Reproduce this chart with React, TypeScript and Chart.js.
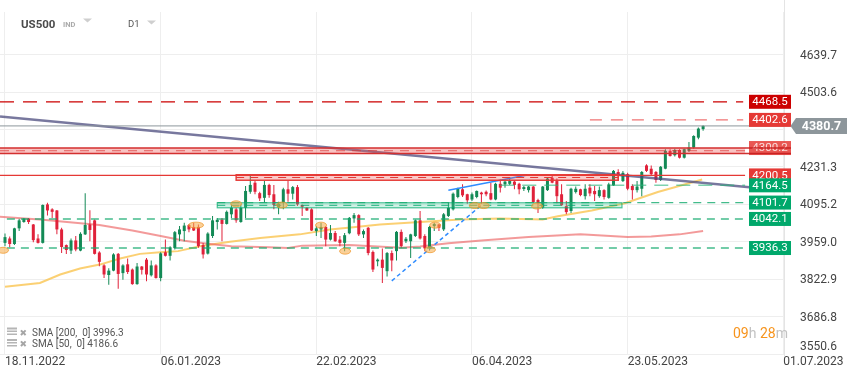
import { useEffect, useRef } from 'react';
import { Chart, registerables } from 'chart.js';

Chart.register(...registerables);

// ---------- axes ----------
const xTickIndex = [0, 33, 66, 99, 132, 165];
const xTickLabels = ['18.11.2022', '06.01.2023', '22.02.2023', '06.04.2023', '23.05.2023', '01.07.2023'];
const yTickValues = [3550.6, 3686.8, 3822.9, 3959.0, 4095.2, 4231.3, 4367.4, 4503.6, 4639.7];

// ---------- candles (daily OHLC) ----------
const opens = [
  3955, 3971, 3951, 4008, 4031, 4043, 4022, 3971, 3955, 4095,
  4077, 4073, 4004, 3947, 3927, 3964, 3927, 3986, 4022, 4037,
  3920, 3873, 3838, 3854, 3915, 3845, 3877, 3858, 3805, 3869,
  3894, 3837, 3873, 3827, 3921, 3908, 3936, 3986, 3998, 4020,
  4013, 4013, 3947, 3916, 3980, 4031, 4040, 4024, 4059, 4077,
  4031, 4083, 4141, 4174, 4136, 4119, 4166, 4132, 4085, 4101,
  4150, 4134, 4158, 4093, 4083, 4077, 3998, 4004, 4013, 3967,
  3991, 3967, 3955, 3990, 4044, 4056, 3986, 4010, 3922, 3888,
  3894, 3852, 3918, 3925, 3995, 3961, 3961, 3980, 4037, 3980,
  3937, 4016, 4022, 4004, 4053, 4077, 4122, 4150, 4132, 4113,
  4122, 4138, 4141, 4136, 4113, 4170, 4168, 4170, 4178, 4170,
  4151, 4147, 4160, 4111, 4083, 4147, 4192, 4180, 4132, 4089,
  4071, 4140, 4150, 4125, 4156, 4144, 4125, 4147, 4119, 4164,
  4213, 4180, 4205, 4162, 4147, 4152, 4237, 4225, 4213, 4184,
  4225, 4290, 4274, 4293, 4265, 4290, 4302, 4338, 4369,
];
const highs = [
  3989, 3978, 4010, 4043, 4046, 4046, 4024, 3986, 4095, 4101,
  4081, 4075, 4010, 3949, 3971, 3980, 3994, 4136, 4074, 4040,
  3925, 3877, 3863, 3917, 3918, 3877, 3898, 3862, 3882, 3871,
  3900, 3891, 3877, 3921, 3967, 3943, 3998, 4016, 4028, 4024,
  4028, 4022, 3955, 3994, 4053, 4046, 4046, 4073, 4095, 4083,
  4095, 4162, 4204, 4180, 4141, 4180, 4170, 4166, 4105, 4156,
  4180, 4162, 4166, 4095, 4085, 4081, 4016, 4028, 4016, 4020,
  3998, 3980, 3991, 4049, 4064, 4059, 4004, 4013, 3927, 3898,
  3935, 3922, 3927, 3998, 4004, 3976, 3988, 4040, 4071, 3986,
  4016, 4028, 4024, 4064, 4101, 4138, 4156, 4168, 4134, 4138,
  4146, 4141, 4146, 4174, 4174, 4186, 4183, 4195, 4183, 4174,
  4162, 4162, 4162, 4116, 4162, 4192, 4198, 4189, 4168, 4107,
  4156, 4160, 4152, 4168, 4168, 4162, 4160, 4150, 4174, 4220,
  4223, 4217, 4210, 4168, 4180, 4217, 4241, 4237, 4217, 4235,
  4296, 4296, 4298, 4296, 4298, 4322, 4347, 4375, 4383,
];
const lows = [
  3943, 3939, 3947, 3998, 4028, 4024, 3957, 3953, 3953, 4055,
  4046, 3986, 3918, 3915, 3915, 3925, 3925, 3984, 3961, 3913,
  3870, 3827, 3803, 3852, 3788, 3821, 3842, 3803, 3803, 3840,
  3815, 3833, 3825, 3815, 3905, 3891, 3931, 3961, 3961, 3994,
  3998, 3937, 3898, 3913, 3973, 4004, 3961, 4022, 4046, 4028,
  4028, 4046, 4134, 4132, 4107, 4101, 4119, 4077, 4059, 4077,
  4105, 4113, 4089, 4053, 4071, 3998, 3980, 3973, 3943, 3964,
  3959, 3943, 3925, 3986, 4028, 3980, 3973, 3910, 3849, 3870,
  3809, 3833, 3852, 3891, 3937, 3955, 3900, 3976, 3967, 3925,
  3927, 3998, 3998, 3998, 4049, 4073, 4117, 4122, 4097, 4107,
  4117, 4097, 4125, 4110, 4110, 4138, 4156, 4166, 4150, 4132,
  4144, 4138, 4099, 4064, 4079, 4144, 4172, 4099, 4089, 4059,
  4064, 4135, 4125, 4113, 4125, 4107, 4119, 4113, 4116, 4162,
  4180, 4177, 4147, 4113, 4138, 4125, 4213, 4198, 4174, 4180,
  4223, 4269, 4269, 4262, 4262, 4286, 4298, 4332, 4363,
];
const closes = [
  3976, 3951, 4008, 4037, 4043, 4031, 3965, 3955, 4093, 4073,
  4068, 4004, 3940, 3929, 3964, 3931, 3988, 4020, 4002, 3915,
  3886, 3840, 3854, 3913, 3842, 3873, 3849, 3805, 3869, 3857,
  3840, 3873, 3827, 3917, 3908, 3939, 3994, 4004, 4018, 4004,
  4000, 3943, 3913, 3989, 4037, 4039, 4024, 4068, 4083, 4037,
  4083, 4144, 4166, 4141, 4117, 4166, 4129, 4093, 4097, 4150,
  4134, 4158, 4095, 4086, 4073, 4000, 4008, 4013, 3967, 3991,
  3961, 3955, 3983, 4046, 4056, 3986, 3998, 3918, 3858, 3894,
  3864, 3918, 3891, 3995, 3943, 3970, 3986, 4037, 3971, 3935,
  4013, 4024, 4010, 4059, 4083, 4134, 4154, 4128, 4110, 4132,
  4144, 4132, 4132, 4113, 4170, 4156, 4178, 4180, 4166, 4150,
  4158, 4160, 4104, 4099, 4160, 4189, 4174, 4125, 4092, 4067,
  4152, 4152, 4129, 4152, 4135, 4132, 4147, 4122, 4168, 4217,
  4201, 4210, 4152, 4147, 4160, 4213, 4217, 4205, 4184, 4232,
  4290, 4271, 4293, 4265, 4296, 4302, 4344, 4371, 4380.7,
];

// ---------- moving averages ----------
const sma200Index = [-1.06, 8, 20, 27, 33, 38, 43, 48, 56, 60, 63, 73, 84, 88, 94, 101, 111, 122, 132, 137, 143, 148];
const sma200Value = [4050, 4039, 4020, 4000, 3980, 3963, 3952, 3943, 3939, 3936, 3945, 3947, 3937, 3942, 3954, 3964, 3976, 3986, 3976, 3978, 3986, 3998];
const sma50Index = [0, 7.4, 11.7, 15.9, 20.1, 24.4, 28.6, 32.9, 36.7, 41.3, 47.7, 54.1, 62.5, 68.9, 73.8, 79.5, 88, 96.5, 104.9, 114, 117.2, 124.4, 131.4, 138.4, 147.8];
const sma50Value = [3795, 3809, 3840, 3862, 3876, 3898, 3915, 3921, 3925, 3943, 3959, 3973, 3986, 4004, 4012, 4022, 4031, 4040, 4044, 4040, 4052, 4073, 4099, 4140, 4186];

// ---------- drawn trendlines ----------
const navyTrendIndex = [-1.06, 165.15];
const navyTrendValue = [4414.8, 4145.9];
const blueDashIndex = [82, 100.9];
const blueDashValue = [3817, 4090.8];
const blueSolidIndex = [94, 110.7];
const blueSolidValue = [4146.2, 4202.1];

// ---------- horizontal levels ----------
const levelValues = [4468.5, 4402.6, 4300.2, 4200.5, 4164.5, 4101.7, 4042.1, 3936.3];
const levelLabels = ['4468.5', '4402.6', '4300.2', '4200.5', '4164.5', '4101.7', '4042.1', '3936.3'];
const levelStart = [-1.06, 124, -1.06, -1.06, 105, 45, 0.4, 0.4];
const levelEnd = [156.5, 156.5, 156.9, 156.9, 156.9, 156.9, 156.9, 156.9];

// zones: red band, red small, green
const zoneStart = [-1.06, 49, 45];
const zoneEnd = [156.9, 130, 130.8];
const zoneTop = [4300.2, 4203, 4101];
const zoneBottom = [4280.5, 4183, 4082.7];

// highlight ellipses
const ellipseIndex = [-0.42, 40.5, 49, 58.7, 67, 72.1, 91.2, 90.1, 99.6, 101.5, 112.8];
const ellipseValue = [3928, 4019.6, 4097.3, 4092.6, 4019.6, 3924.8, 4019.6, 3930.2, 4090.8, 4090.8, 4089];

const lastPrice = 4380.7;
const legendTexts = ['SMA [200,  0] 3996.3', 'SMA [50,  0] 4186.6'];
const symbolName = 'US500';
const symbolType = 'IND';
const timeframe = 'D1';
const timerParts = ['09', 'h ', '28', 'm'];

// ---------- styles ----------
const GREEN = '#138a56';
const RED = '#e0213a';
const levelColor = ['#cc0000', 'rgba(236,90,90,0.85)', '#d32f2f', '#e53935', 'rgba(40,180,120,0.6)', 'rgba(20,170,110,0.8)', 'rgba(20,170,110,0.8)', 'rgba(20,170,110,0.8)'];
const levelDash = [[14, 9], [12, 9], [], [], [14, 8], [8, 6], [8, 6], [8, 6]];
const levelWidth = [1.3, 1.3, 0, 1.2, 1.6, 1.4, 1.4, 1.4];
const boxColor = ['#cc0000', '#e53935', 'rgba(229,57,53,0.85)', '#e53935', '#00a86b', '#00a86b', '#00a86b', '#00a86b'];
const zoneFill = ['rgba(239,83,80,0.35)', 'rgba(239,83,80,0.3)', 'rgba(80,210,160,0.28)'];
const zoneStroke = ['#d32f2f', '#e53935', 'rgba(0,170,110,0.7)'];
const zoneStrokeW = [1.6, 1.4, 1.2];

const overlayPlugin = {
  id: 'overlay',
  afterDatasetsDraw(chart: any) {
    const { ctx, chartArea: ca, scales } = chart;
    const px = (i: number) => scales.x.getPixelForValue(i);
    const py = (v: number) => scales.y.getPixelForValue(v);
    ctx.save();
    ctx.beginPath();
    ctx.rect(ca.left, ca.top, ca.right - ca.left, ca.bottom - ca.top);
    ctx.clip();

    // zones
    zoneStart.forEach((s, k) => {
      const x0 = px(s), x1 = px(zoneEnd[k]);
      const y0 = py(zoneTop[k]), y1 = py(zoneBottom[k]);
      ctx.fillStyle = zoneFill[k];
      ctx.fillRect(x0, y0, x1 - x0, y1 - y0);
      ctx.strokeStyle = zoneStroke[k];
      ctx.lineWidth = zoneStrokeW[k];
      ctx.setLineDash([]);
      if (k === 0) {
        ctx.beginPath();
        ctx.moveTo(x0, y0); ctx.lineTo(x1, y0);
        ctx.moveTo(x0, y1); ctx.lineTo(x1, y1);
        ctx.stroke();
        ctx.setLineDash([9, 7]);
        ctx.lineWidth = 1;
        ctx.strokeStyle = 'rgba(220,50,50,0.7)';
        ctx.beginPath();
        ctx.moveTo(x0, (y0 + y1) / 2); ctx.lineTo(x1, (y0 + y1) / 2);
        ctx.stroke();
      } else {
        ctx.strokeRect(x0, y0, x1 - x0, y1 - y0);
        ctx.setLineDash([8, 6]);
        ctx.lineWidth = 1.2;
        ctx.beginPath();
        ctx.moveTo(x0, (y0 + y1) / 2); ctx.lineTo(x1, (y0 + y1) / 2);
        ctx.stroke();
      }
    });

    // level lines
    levelValues.forEach((v, k) => {
      if (levelWidth[k] === 0) return;
      ctx.setLineDash(levelDash[k]);
      ctx.strokeStyle = levelColor[k];
      ctx.lineWidth = levelWidth[k];
      ctx.beginPath();
      ctx.moveTo(px(levelStart[k]), py(v));
      ctx.lineTo(px(levelEnd[k]), py(v));
      ctx.stroke();
    });

    // current price line
    ctx.setLineDash([]);
    ctx.strokeStyle = '#8d969b';
    ctx.lineWidth = 1;
    ctx.beginPath();
    ctx.moveTo(ca.left, py(lastPrice));
    ctx.lineTo(ca.right, py(lastPrice));
    ctx.stroke();

    // ellipses
    ellipseIndex.forEach((i, k) => {
      ctx.beginPath();
      ctx.ellipse(px(i), py(ellipseValue[k]), k === 1 ? 7.5 : 5.5, 3, 0, 0, Math.PI * 2);
      ctx.fillStyle = 'rgba(246,170,70,0.55)';
      ctx.fill();
      ctx.strokeStyle = 'rgba(240,150,40,0.7)';
      ctx.lineWidth = 1;
      ctx.stroke();
    });
    ctx.restore();
  },
  afterDraw(chart: any) {
    const { ctx, chartArea: ca, scales } = chart;
    const py = (v: number) => scales.y.getPixelForValue(v);
    ctx.save();
    ctx.setLineDash([]);

    // separator
    ctx.strokeStyle = '#e4e4e4';
    ctx.lineWidth = 1;
    ctx.beginPath();
    ctx.moveTo(Math.round(ca.right) + 0.5, 0);
    ctx.lineTo(Math.round(ca.right) + 0.5, 356);
    ctx.stroke();

    // y tick labels
    ctx.font = '12px Roboto';
    ctx.fillStyle = '#444';
    ctx.textAlign = 'left';
    ctx.textBaseline = 'middle';
    yTickValues.forEach((v) => {
      const y = Math.min(py(v) + 1, ca.bottom - 7);
      ctx.fillText(v.toFixed(1), ca.right + 16, y);
    });

    // level label boxes
    const bx = ca.right - 35;
    ctx.font = '11.5px Roboto';
    ctx.textAlign = 'center';
    levelValues.forEach((v, k) => {
      const y = py(v);
      ctx.fillStyle = boxColor[k];
      ctx.fillRect(bx, y - 7, 42, 14);
      ctx.fillStyle = k === 2 ? 'rgba(255,255,255,0.8)' : '#fff';
      ctx.fillText(levelLabels[k], bx + 21, y + 0.5);
      if (k === 2) {
        const y0 = py(zoneTop[0]), y1 = py(zoneBottom[0]);
        ctx.strokeStyle = 'rgba(200,30,30,0.9)';
        ctx.lineWidth = 1.4;
        ctx.beginPath();
        ctx.moveTo(bx - 4, y0); ctx.lineTo(bx + 42, y0);
        ctx.moveTo(bx - 4, y1); ctx.lineTo(bx + 42, y1);
        ctx.stroke();
      }
    });

    // current price box
    const yp = py(lastPrice);
    ctx.fillStyle = '#8d969b';
    ctx.beginPath();
    ctx.moveTo(ca.right + 6.5, yp);
    ctx.lineTo(ca.right + 12, yp - 8);
    ctx.lineTo(ca.right + 63, yp - 8);
    ctx.lineTo(ca.right + 63, yp + 8);
    ctx.lineTo(ca.right + 12, yp + 8);
    ctx.closePath();
    ctx.fill();
    ctx.fillStyle = '#fff';
    ctx.font = 'bold 12.5px Roboto';
    ctx.textAlign = 'center';
    ctx.fillText(lastPrice.toFixed(1), ca.right + 37.5, yp + 0.5);

    // header
    ctx.textAlign = 'left';
    ctx.textBaseline = 'alphabetic';
    ctx.fillStyle = '#4a4a4a';
    ctx.font = 'bold 11.5px Roboto';
    ctx.fillText(symbolName, 21, 27.5);
    ctx.fillStyle = '#aaa';
    ctx.font = 'bold 7.5px Roboto';
    ctx.fillText(symbolType, 63, 26.5);
    ctx.fillStyle = '#555';
    ctx.font = '9.5px Roboto';
    ctx.fillText(timeframe, 128, 27);
    ctx.fillStyle = '#cfcfcf';
    [[83, 18.5, 92], [147, 20.5, 156]].forEach(([a, t, b]) => {
      ctx.beginPath();
      ctx.moveTo(a, t); ctx.lineTo(b, t); ctx.lineTo((a + b) / 2, t + 4);
      ctx.closePath();
      ctx.fill();
    });

    // legend
    legendTexts.forEach((t, k) => {
      const yb = 335.5 + k * 11.5;
      ctx.fillStyle = '#b5b5b5';
      ctx.fillRect(7, yb - 8, 10, 2);
      ctx.fillRect(7, yb - 5, 10, 1.5);
      ctx.fillRect(7, yb - 2, 10, 1.5);
      ctx.fillStyle = '#a5a5a5';
      ctx.font = 'bold 9px "DejaVu Sans"';
      ctx.fillText('\u2716', 19.5, yb);
      ctx.fillStyle = '#555';
      ctx.font = '10px Roboto';
      ctx.fillText(t, 32, yb);
    });

    // timer
    ctx.font = '14px Roboto';
    let tx = 733;
    timerParts.forEach((p, k) => {
      ctx.fillStyle = k % 2 === 0 ? '#f7941d' : '#c2c2c2';
      ctx.fillText(p, tx, 338.3);
      tx += ctx.measureText(p).width;
    });
    ctx.restore();
  },
};

export default function App() {
  const ref = useRef<HTMLCanvasElement>(null);
  useEffect(() => {
    document.body.style.margin = '0';
    const canvas = ref.current as HTMLCanvasElement;
    const idx = opens.map((_, i) => i);
    const colors = idx.map((i) => (closes[i] >= opens[i] ? GREEN : RED));
    Chart.defaults.font.family = 'Roboto';
    const chart = new Chart(canvas, {
      type: 'bar',
      data: {
        datasets: [
          {
            type: 'line',
            data: sma200Index.map((x, k) => ({ x, y: sma200Value[k] })),
            borderColor: 'rgba(236,100,100,0.65)',
            borderWidth: 2,
            pointRadius: 0,
            tension: 0,
            order: 4,
          },
          {
            type: 'line',
            data: sma50Index.map((x, k) => ({ x, y: sma50Value[k] })),
            borderColor: 'rgba(250,196,80,0.8)',
            borderWidth: 2,
            pointRadius: 0,
            tension: 0,
            order: 4,
          },
          {
            type: 'bar',
            data: idx.map((i) => ({ x: i, y: [lows[i], highs[i]] })),
            backgroundColor: colors,
            barThickness: 1,
            grouped: false,
            inflateAmount: 0,
            order: 2,
          },
          {
            type: 'bar',
            data: idx.map((i) => ({ x: i, y: [opens[i], closes[i]] })),
            backgroundColor: colors,
            barThickness: 3,
            minBarLength: 1,
            grouped: false,
            inflateAmount: 0,
            order: 1,
          },
          {
            type: 'line',
            data: navyTrendIndex.map((x, k) => ({ x, y: navyTrendValue[k] })),
            borderColor: 'rgba(75,75,125,0.75)',
            borderWidth: 2.6,
            pointRadius: 0,
            order: 0,
          },
          {
            type: 'line',
            data: blueDashIndex.map((x, k) => ({ x, y: blueDashValue[k] })),
            borderColor: '#2f8cff',
            borderDash: [4, 3],
            borderWidth: 1.5,
            pointRadius: 0,
            order: 0,
          },
          {
            type: 'line',
            data: blueSolidIndex.map((x, k) => ({ x, y: blueSolidValue[k] })),
            borderColor: '#2f8cff',
            borderWidth: 1.5,
            pointRadius: 0,
            order: 0,
          },
        ] as any,
      },
      options: {
        animation: false,
        responsive: false,
        devicePixelRatio: 1,
        events: [],
        layout: { padding: { top: 12, left: 0, right: 0, bottom: 0 } },
        plugins: { legend: { display: false }, tooltip: { enabled: false } },
        scales: {
          x: {
            type: 'linear',
            min: -1.06,
            max: 165.15,
            offset: false,
            afterBuildTicks: (s: any) => {
              s.ticks = xTickIndex.map((v) => ({ value: v }));
            },
            afterFit: (s: any) => {
              s.height = 24;
            },
            grid: { color: '#eeeeee', drawTicks: false, offset: false },
            border: { display: false },
            ticks: {
              align: 'start',
              autoSkip: false,
              maxRotation: 0,
              padding: 0.5,
              color: '#444',
              font: { size: 12, family: 'Roboto' },
              callback: (v: any) => {
                const k = xTickIndex.indexOf(Number(v));
                return k >= 0 ? xTickLabels[k] : '';
              },
            },
          },
          y: {
            type: 'linear',
            position: 'right',
            min: 3550.6,
            max: 4795.3,
            afterBuildTicks: (s: any) => {
              s.ticks = yTickValues.map((v) => ({ value: v }));
            },
            afterFit: (s: any) => {
              s.width = 75;
            },
            grid: { color: '#eeeeee', drawTicks: false },
            border: { display: false },
            ticks: { display: false },
          },
        },
      } as any,
      plugins: [overlayPlugin],
    });
    return () => chart.destroy();
  }, []);
  return <canvas ref={ref} width={859} height={378} style={{ display: 'block', width: 859, height: 378 }} />;
}
